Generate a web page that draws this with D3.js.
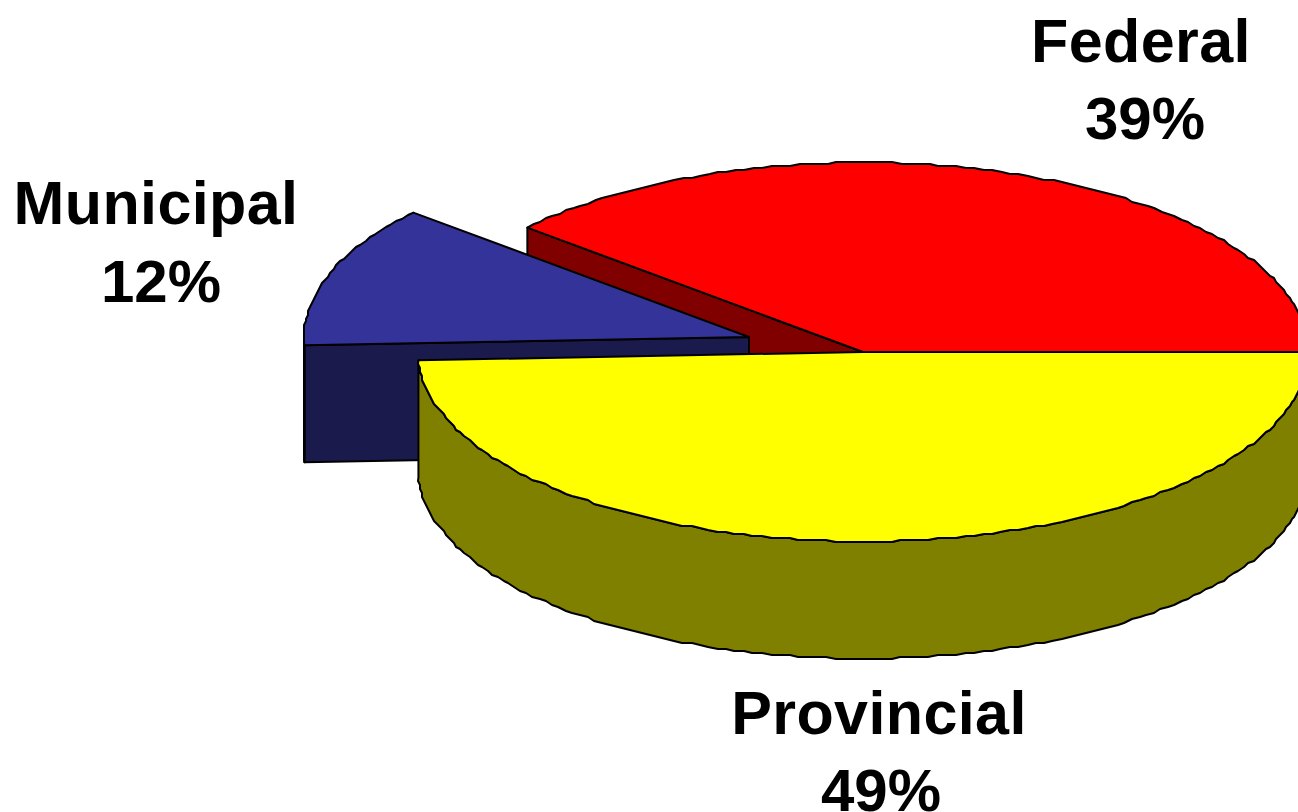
<!DOCTYPE html>
<html>
<head>
<meta charset="utf-8">
<script src="https://cdn.jsdelivr.net/npm/d3@7/dist/d3.min.js"></script>
<style>
html,body{margin:0;padding:0;background:#fff;overflow:hidden}
svg{display:block}
text{font-family:"Liberation Sans",Arial,sans-serif;font-weight:700;fill:#000;text-anchor:middle}
</style>
</head>
<body>
<svg id="c" width="1298" height="812"></svg>
<script>
const categories = ["Provincial", "Municipal", "Federal"];
const shares = [49.3, 12.1, 38.6];
const percentLabels = ["49%", "12%", "39%"];
const topColors = ["#ffff00", "#333399", "#ff0000"];
const sideColors = ["#808000", "#1a1a4d", "#800000"];

const W = 1298, H = 812;
const cx = 863, cy = 352, rx = 445, ry = 189.5, depth = 117;
const explode = {Municipal: [-114, -15]};
const labelPos = {
  Federal: {nameX: 1141, nameY: 62, pctX: 1145, pctY: 139},
  Municipal: {nameX: 156, nameY: 224, pctX: 161, pctY: 302},
  Provincial: {nameX: 879, nameY: 734, pctX: 881, pctY: 811}
};

const svg = d3.select("#c");
const x = d3.scaleLinear().domain([-1, 1]).range([cx - rx, cx + rx]);
const y = d3.scaleLinear().domain([-1, 1]).range([cy - ry, cy + ry]);

const arcs = d3.pie().sort(null).startAngle(Math.PI / 2).endAngle(Math.PI * 2.5)
  .value((d, i) => shares[i])(categories);

const snap = v => Math.round(v / 2) * 2;
function rim(a0, a1) {
  const n = Math.max(2, Math.ceil((a1 - a0) / (1.2 * Math.PI / 180)));
  return d3.range(n + 1).map(i => {
    const a = a0 + (a1 - a0) * i / n;
    const px = x(Math.sin(a)), py = y(-Math.cos(a));
    return (i === 0 || i === n) ? [px, py] : [snap(px), snap(py)];
  });
}
const line = d3.line();
const shift = (pts, dy) => pts.map(p => [p[0], p[1] + dy]);
const style = s => s.attr("stroke", "#000").attr("stroke-width", 2)
  .attr("stroke-linejoin", "round");

// draw order: back wedge first, then exploded wedge, then front wedge
const order = [2, 1, 0];
order.forEach(i => {
  const d = arcs[i];
  const off = explode[d.data] || [0, 0];
  const g = svg.append("g").attr("transform", `translate(${off[0]},${off[1]})`);
  const edge = rim(d.startAngle, d.endAngle);
  const apex = [x(0), y(0)];

  // the radial wall at the slice's start faces the viewer
  const p = edge[0];
  g.append("path")
    .attr("d", line([apex, p, [p[0], p[1] + depth], [apex[0], apex[1] + depth]]) + "Z")
    .attr("fill", sideColors[i]).call(style);

  // outer wall: only the part of the rim facing the viewer (lower half)
  const lo = Math.max(d.startAngle, Math.PI / 2);
  const hi = Math.min(d.endAngle, Math.PI * 1.5);
  if (hi > lo) {
    const front = rim(lo, hi);
    g.append("path")
      .attr("d", line(front.concat(shift(front, depth).reverse())) + "Z")
      .attr("fill", sideColors[i]).call(style);
  }

  // top face
  g.append("path")
    .attr("d", line([apex].concat(edge)) + "Z")
    .attr("fill", topColors[i]).call(style);
});

// labels
arcs.forEach((d, i) => {
  const p = labelPos[d.data];
  svg.append("text").attr("font-size", 61).attr("letter-spacing", 0.4)
    .attr("x", p.nameX).attr("y", p.nameY).text(d.data);
  svg.append("text").attr("font-size", 60)
    .attr("x", p.pctX).attr("y", p.pctY).text(percentLabels[i]);
});
</script>
</body>
</html>
